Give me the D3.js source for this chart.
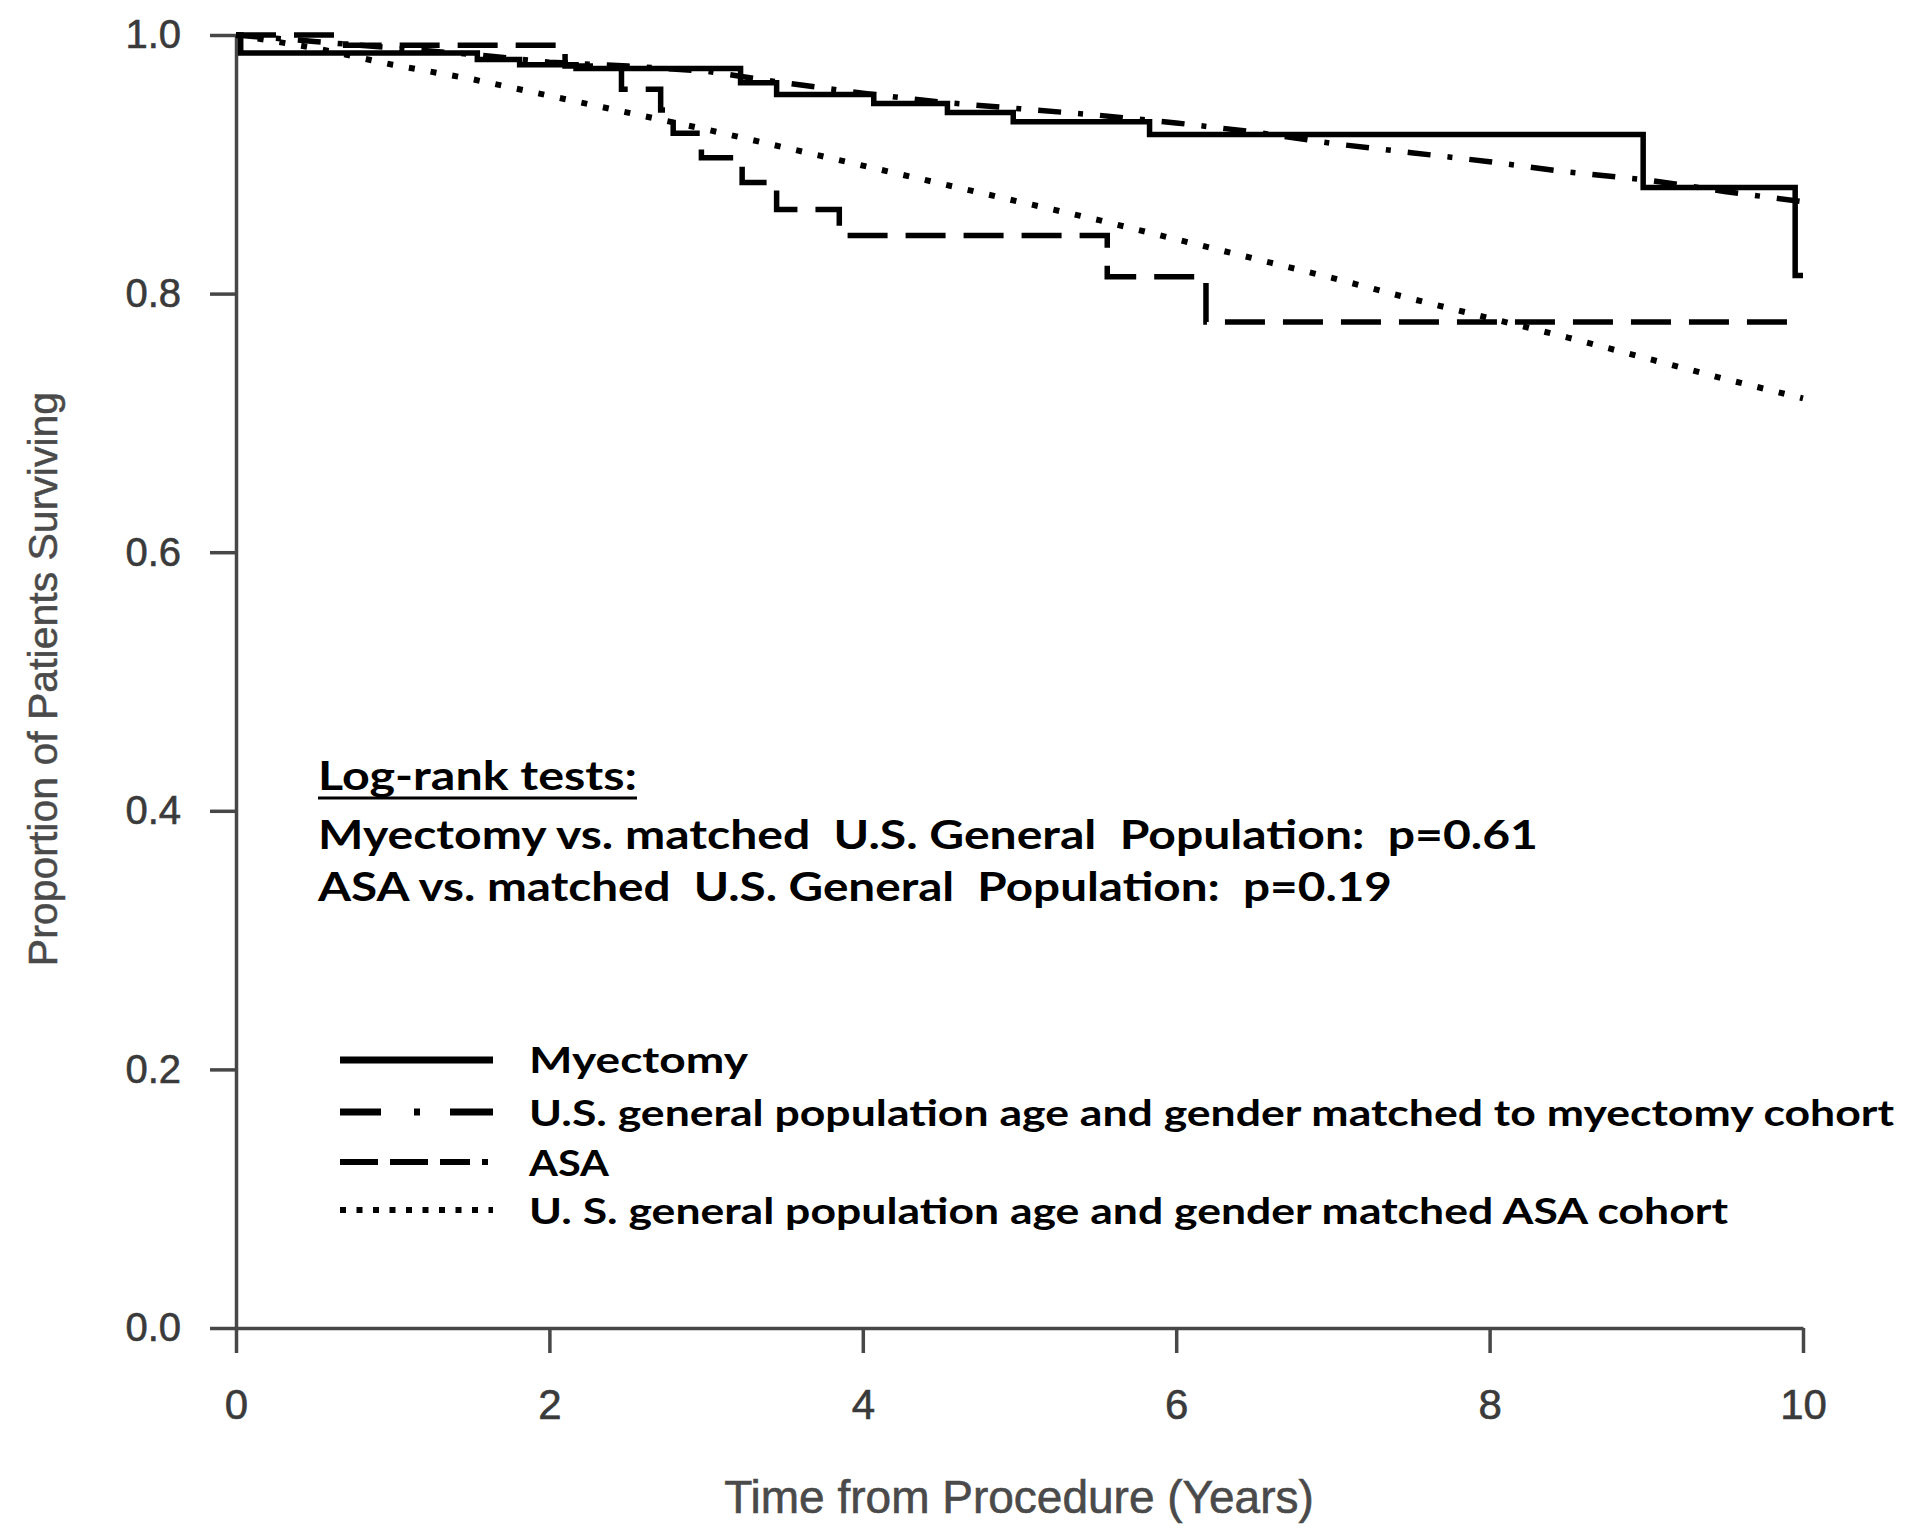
<!DOCTYPE html>
<html>
<head>
<meta charset="utf-8">
<script src="https://cdn.jsdelivr.net/npm/d3@7"></script>
<style>
  html, body { margin: 0; padding: 0; background: #ffffff; }
  svg { display: block; }
</style>
</head>
<body>
<svg id="chart" width="1920" height="1537"></svg>
<script>
// ---------------- data ----------------
const xTicks = [0, 2, 4, 6, 8, 10];
const yTicks = [0.0, 0.2, 0.4, 0.6, 0.8, 1.0];

// Kaplan-Meier: Myectomy (solid)
const timeMyectomy = [0, 0.03, 1.54, 1.81, 2.17, 3.22, 3.45, 4.07, 4.54, 4.96, 5.83, 8.98, 9.95, 10.0];
const survMyectomy = [1.0, 0.986, 0.981, 0.977, 0.974, 0.963, 0.954, 0.947, 0.940, 0.933, 0.923, 0.882, 0.814, 0.814];

// Kaplan-Meier: ASA (dashed)
const timeASA = [0, 0.7, 2.1, 2.46, 2.71, 2.79, 2.97, 3.23, 3.45, 3.85, 5.56, 6.19, 10.0];
const survASA = [1.0, 0.992, 0.976, 0.958, 0.942, 0.924, 0.905, 0.886, 0.865, 0.845, 0.813, 0.778, 0.778];

// Expected survival of matched U.S. general population
const expTimes = [0, 0.5, 1, 1.5, 2, 2.5, 3, 3.5, 4, 4.5, 5, 5.5, 6, 6.5, 7, 7.5, 8, 8.5, 9, 9.5, 10];
const survExpMyectomy = [1.0, 0.995, 0.990, 0.985, 0.979, 0.976, 0.972, 0.963, 0.955, 0.948, 0.943, 0.938, 0.932, 0.925, 0.916, 0.909, 0.902, 0.894, 0.888, 0.879, 0.871];
const survExpASA = [1.0, 0.990, 0.977, 0.966, 0.953, 0.940, 0.927, 0.913, 0.899, 0.885, 0.871, 0.857, 0.842, 0.827, 0.812, 0.796, 0.781, 0.766, 0.750, 0.734, 0.719];

const legendLabels = [
  "Myectomy",
  "U.S. general population age and gender matched to myectomy cohort",
  "ASA",
  "U. S. general population age and gender matched ASA cohort"
];
const annotationLines = [
  "Log-rank tests:",
  "Myectomy vs. matched  U.S. General  Population:  p=0.61",
  "ASA vs. matched  U.S. General  Population:  p=0.19"
];
const xTitle = "Time from Procedure (Years)";
const yTitle = "Proportion of Patients Surviving";

// ---------------- drawing ----------------
const svg = d3.select("#chart");
svg.append("rect").attr("width", 1920).attr("height", 1537).attr("fill", "#ffffff");

const x = d3.scaleLinear().domain([0, 10]).range([236, 1803]);
const y = d3.scaleLinear().domain([0, 1]).range([1328, 35]);

const axisColor = "#474747";
const labelFont = "'Liberation Sans', Arial, sans-serif";
const boldFont = "Lato, 'Open Sans', sans-serif";

// Y axis
const yAxis = svg.append("g")
  .attr("transform", `translate(${x(0)},0)`)
  .call(d3.axisLeft(y).tickValues(yTicks).tickFormat(d3.format(".1f"))
    .tickSize(26).tickSizeOuter(0).tickPadding(29));
// X axis
const xAxis = svg.append("g")
  .attr("transform", `translate(0,${y(0)})`)
  .call(d3.axisBottom(x).tickValues(xTicks).tickFormat(d3.format("d"))
    .tickSize(25).tickSizeOuter(0).tickPadding(36));

[yAxis, xAxis].forEach(g => {
  g.select(".domain").attr("stroke", axisColor).attr("stroke-width", 3.5);
  g.selectAll(".tick line").attr("stroke", axisColor).attr("stroke-width", 3.5);
  g.selectAll(".tick text")
    .attr("fill", "#3a3a3a")
    .attr("stroke", "#3a3a3a")
    .attr("stroke-width", 0.6)
    .style("font-family", labelFont);
});
yAxis.selectAll(".tick text").style("font-size", "40px");
xAxis.selectAll(".tick text").style("font-size", "42px");

// Axis titles
svg.append("text")
  .attr("x", 1019).attr("y", 1513)
  .attr("text-anchor", "middle")
  .attr("fill", "#4a4a4a")
  .attr("stroke", "#4a4a4a")
  .attr("stroke-width", 0.6)
  .style("font-family", labelFont)
  .style("font-size", "46px")
  .text(xTitle);

svg.append("text")
  .attr("transform", "translate(57,679) rotate(-90)")
  .attr("text-anchor", "middle")
  .attr("fill", "#4a4a4a")
  .attr("stroke", "#4a4a4a")
  .attr("stroke-width", 0.5)
  .style("font-family", labelFont)
  .style("font-size", "41px")
  .text(yTitle);

// Curves
const series = [
  { t: expTimes, s: survExpASA, curve: d3.curveLinear, dash: "6,16", width: 6 },
  { t: expTimes, s: survExpMyectomy, curve: d3.curveLinear, dash: "23,17,5,17", width: 5.5 },
  { t: timeASA, s: survASA, curve: d3.curveStepAfter, dash: "40,18", width: 5.5 },
  { t: timeMyectomy, s: survMyectomy, curve: d3.curveStepAfter, dash: null, width: 5.5 }
];

series.forEach(sr => {
  const pts = sr.t.map((t, i) => [t, sr.s[i]]);
  const line = d3.line().x(d => x(d[0])).y(d => y(d[1])).curve(sr.curve);
  svg.append("path")
    .datum(pts)
    .attr("d", line)
    .attr("fill", "none")
    .attr("stroke", "#000")
    .attr("stroke-width", sr.width)
    .attr("stroke-dasharray", sr.dash)
    .attr("stroke-linejoin", "miter");
});

// Annotation
const annBaselines = [790, 849, 901];
const annWidths = [319, 1220, 1074];
annotationLines.forEach((txt, i) => {
  svg.append("text")
    .attr("x", 318).attr("y", annBaselines[i])
    .attr("fill", "#000")
    .attr("textLength", annWidths[i])
    .attr("lengthAdjust", "spacingAndGlyphs")
    .style("white-space", "pre")
    .style("font-family", boldFont)
    .style("font-weight", "bold")
    .style("font-size", "40px")
    .text(txt);
});
svg.append("line")
  .attr("x1", 318).attr("x2", 637).attr("y1", 798).attr("y2", 798)
  .attr("stroke", "#000").attr("stroke-width", 3);

// Legend
const legLineY = [1060, 1112, 1162, 1210];
const legTextY = [1073, 1126, 1176, 1224];
const legWidths = [219, 1365, 80, 1199];
const legStyles = [
  { dash: null, width: 7 },
  { dash: "41,33,6,30,46", width: 7 },
  { dash: "38,12,38,12,30,12,6", width: 6 },
  { dash: "6,10.5", width: 6 }
];
legendLabels.forEach((lab, i) => {
  svg.append("line")
    .attr("x1", 340).attr("x2", 493)
    .attr("y1", legLineY[i]).attr("y2", legLineY[i])
    .attr("stroke", "#000")
    .attr("stroke-width", legStyles[i].width)
    .attr("stroke-dasharray", legStyles[i].dash);
  svg.append("text")
    .attr("x", 529).attr("y", legTextY[i])
    .attr("fill", "#000")
    .attr("textLength", legWidths[i])
    .attr("lengthAdjust", "spacingAndGlyphs")
    .style("font-family", boldFont)
    .style("font-weight", "bold")
    .style("font-size", "37px")
    .text(lab);
});
</script>
</body>
</html>
